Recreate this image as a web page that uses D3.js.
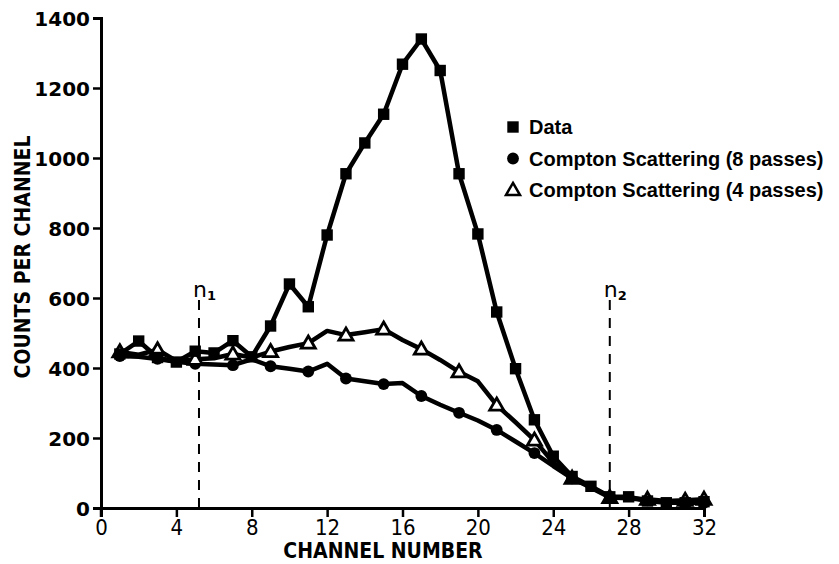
<!DOCTYPE html>
<html>
<head>
<meta charset="utf-8">
<script src="https://cdnjs.cloudflare.com/ajax/libs/d3/7.8.5/d3.min.js"></script>
<style>
  body { margin: 0; background: #fff; }
  svg { display: block; }
  .tick text { font-family: "DejaVu Sans", sans-serif; font-weight: bold; fill: #000; }
</style>
</head>
<body>
<div id="chart"></div>
<script>
// channel numbers 1..32
var channels = [1, 2, 3, 4, 5, 6, 7, 8, 9, 10, 11, 12, 13, 14, 15, 16,
  17, 18, 19, 20, 21, 22, 23, 24, 25, 26, 27, 28, 29, 30, 31, 32];

// measured data (squares)
var dataCounts = [440, 477, 430, 417, 448, 443, 478, 432, 520, 640, 575, 780,
  955, 1043, 1125, 1268, 1340, 1250, 955, 783, 560, 398, 252, 148,
  90, 62, 32, 32, 20, 15, 15, 18];

// Compton scattering, 8 passes (circles)
var compton8 = [434, 432, 426, 418, 412, 410, 408, 425, 405, 398, 390, 412,
  370, 362, 354, 357, 320, 295, 272, 250, 223, 190, 157, 120,
  85, 60, 32, 28, 22, 18, 15, 15];

// Compton scattering, 4 passes (triangles)
var compton4 = [446, 438, 452, 420, 425, 428, 440, 430, 447, 460, 471, 506,
  494, 502, 511, 480, 454, 423, 389, 362, 294, 245, 194, 130,
  85, 58, 30, 28, 25, 20, 22, 25];

var xTicks = [0, 4, 8, 12, 16, 20, 24, 28, 32];
var yTicks = [0, 200, 400, 600, 800, 1000, 1200, 1400];
var markers = [
  { n: "n", sub: "1", channel: 5.2 },
  { n: "n", sub: "2", channel: 27 }
];
var legendLabels = ["Data", "Compton  Scattering (8 passes)", "Compton  Scattering (4 passes)"];

var svgWidth = 839, svgHeight = 564;
var margin = { top: 18, right: 135, bottom: 56, left: 101 };
var width = svgWidth - margin.left - margin.right;
var height = svgHeight - margin.top - margin.bottom;

var svg = d3.select("#chart").append("svg")
  .attr("width", svgWidth)
  .attr("height", svgHeight);

var chartGroup = svg.append("g")
  .attr("transform", `translate(${margin.left}, ${margin.top})`);

var xScale = d3.scaleLinear().domain([0, 32]).range([0, width]);
var yScale = d3.scaleLinear().domain([0, 1400]).range([height, 0]);

// axes
var bottomAxis = d3.axisBottom(xScale).tickValues(xTicks).tickSize(9).tickPadding(2);
var leftAxis = d3.axisLeft(yScale).tickValues(yTicks).tickSize(8).tickPadding(3)
  .tickFormat(d3.format("d"));

var xAxis = chartGroup.append("g")
  .attr("transform", `translate(0, ${height})`)
  .call(bottomAxis);
xAxis.selectAll("text")
  .style("font-family", "'DejaVu Sans Condensed', sans-serif")
  .style("font-weight", "normal")
  .style("font-size", "22px");

var yAxis = chartGroup.append("g").call(leftAxis);
yAxis.selectAll("text").style("font-size", "20px").attr("dy", "0.36em");

chartGroup.selectAll(".domain").attr("stroke", "#000").attr("stroke-width", 3);
chartGroup.selectAll(".tick line").attr("stroke", "#000").attr("stroke-width", 2.5);

// y axis extends slightly below origin
chartGroup.append("line")
  .attr("x1", 0).attr("x2", 0)
  .attr("y1", height).attr("y2", height + 9)
  .attr("stroke", "#000").attr("stroke-width", 2.5);

// axis titles
svg.append("text")
  .attr("transform", `translate(30, ${margin.top + height / 2 - 6}) rotate(-90)`)
  .attr("text-anchor", "middle")
  .style("font-family", "'DejaVu Sans Condensed', sans-serif")
  .style("font-weight", "bold")
  .style("font-size", "21px")
  .text("COUNTS PER CHANNEL");

svg.append("text")
  .attr("x", 383)
  .attr("y", 558)
  .attr("text-anchor", "middle")
  .style("font-family", "'DejaVu Sans Condensed', sans-serif")
  .style("font-weight", "bold")
  .style("font-size", "21px")
  .text("CHANNEL NUMBER");

// n1 / n2 dashed markers
var markerGroup = chartGroup.selectAll(".nmark")
  .data(markers)
  .enter()
  .append("g")
  .attr("transform", d => `translate(${xScale(d.channel)}, 0)`);

markerGroup.append("line")
  .attr("y1", 282).attr("y2", height)
  .attr("stroke", "#000")
  .attr("stroke-width", 2)
  .attr("stroke-dasharray", "10,8");

var nLabel = markerGroup.append("text")
  .attr("x", -6)
  .attr("y", 279)
  .style("font-family", "'DejaVu Sans', sans-serif")
  .style("font-size", "22px");
nLabel.append("tspan").text(d => d.n);
nLabel.append("tspan")
  .attr("dy", 3)
  .style("font-size", "13px")
  .style("font-weight", "bold")
  .text(d => d.sub);

// lines
var series = [
  { name: "compton8", values: compton8, shape: "circle" },
  { name: "compton4", values: compton4, shape: "triangle" },
  { name: "data", values: dataCounts, shape: "square" }
];

var line = d3.line()
  .x((d, i) => xScale(channels[i]))
  .y(d => yScale(d));

chartGroup.selectAll(".seriesLine")
  .data(series)
  .enter()
  .append("path")
  .attr("class", "seriesLine")
  .attr("d", d => line(d.values))
  .attr("fill", "none")
  .attr("stroke", "#000")
  .attr("stroke-width", 4.5)
  .attr("stroke-linejoin", "round");

// markers: data at every channel, compton curves at odd channels (+ last)
function showMarker(s, i) {
  if (s.shape === "square") return true;
  return channels[i] % 2 === 1 || channels[i] === 32;
}

var triSymbol = d3.symbol().type(d3.symbolTriangle).size(85);
var sqSymbol = d3.symbol().type(d3.symbolSquare).size(130);
var ciSymbol = d3.symbol().type(d3.symbolCircle).size(110);

series.forEach(function (s) {
  var pts = s.values.map((v, i) => ({ x: channels[i], y: v, i: i }))
    .filter(p => showMarker(s, p.i));
  var g = chartGroup.append("g");
  if (s.shape === "triangle") {
    g.selectAll("path").data(pts).enter().append("path")
      .attr("d", triSymbol)
      .attr("transform", p => `translate(${xScale(p.x)}, ${yScale(p.y) + 1})`)
      .attr("fill", "#fff")
      .attr("stroke", "#000")
      .attr("stroke-width", 2.8);
  } else {
    g.selectAll("path").data(pts).enter().append("path")
      .attr("d", s.shape === "square" ? sqSymbol : ciSymbol)
      .attr("transform", p => `translate(${xScale(p.x)}, ${yScale(p.y)})`)
      .attr("fill", "#000");
  }
});

// legend
var legend = svg.append("g").attr("transform", "translate(513, 127)");
var legendShapes = [sqSymbol, ciSymbol, triSymbol];
legendLabels.forEach(function (label, i) {
  var row = legend.append("g").attr("transform", `translate(0, ${i * 31.5})`);
  row.append("path")
    .attr("d", legendShapes[i])
    .attr("fill", i === 2 ? "#fff" : "#000")
    .attr("stroke", i === 2 ? "#000" : "none")
    .attr("stroke-width", 2.5)
    .attr("transform", i === 2 ? "translate(0, 1)" : null);
  row.append("text")
    .attr("x", 16)
    .attr("y", 7)
    .style("font-family", "'Liberation Sans', sans-serif")
    .style("font-weight", "bold")
    .style("font-size", "20px")
    .text(label);
});
</script>
</body>
</html>
